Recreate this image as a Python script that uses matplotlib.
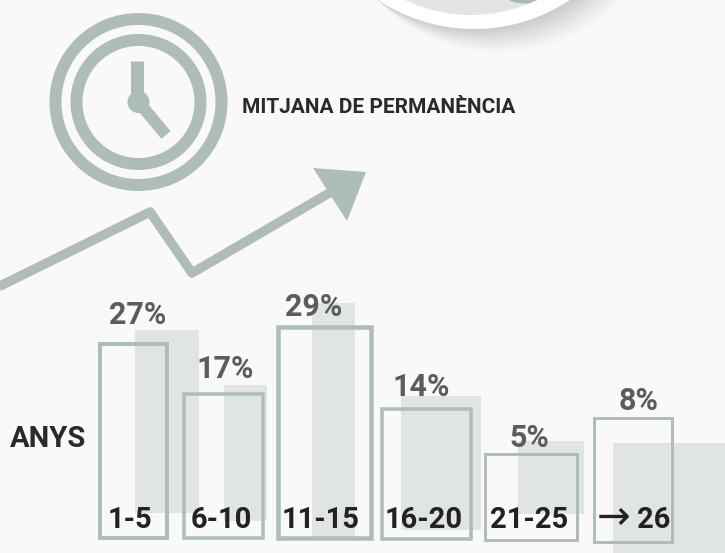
import numpy as np
import matplotlib
matplotlib.use("Agg")
import matplotlib.pyplot as plt
from matplotlib.patches import Circle, Wedge, Polygon, Ellipse

categories = ["1-5", "6-10", "11-15", "16-20", "21-25", "\u2192 26"]
percent_values = [27, 17, 29, 14, 5, 8]
outline_heights = [194, 144, 211, 130, 86, 124]      # drawn height
backdrop_heights = [183, 136, 237, 134, 73, 110]

# layout (pixels)
BG = "#f9f9f9"
SAGE = "#aebdb6"
PALE = "#e0e5e2"
outline_left = [100, 184, 278.5, 382, 485.5, 594.5]
outline_right = [167, 263.5, 371, 471.5, 577.5, 672.5]
outline_base = [538, 538, 538, 538.5, 539.5, 541.5]
outline_lw = [4, 3.5, 4.5, 3.5, 3, 3]
back_left = [135, 224, 312, 401, 518, 613]
back_right = [199, 267, 355, 481, 584, 725]
back_base = [513, 521, 540, 530, 514, 553]
pct_xy = [(138, 315), (225, 369), (314, 307), (421, 387), (529, 438), (639, 401)]
cat_x = [130, 221, 321, 424, 529, 635]
CAT_Y = 520

fig = plt.figure(figsize=(7.25, 5.53), dpi=100, facecolor=BG)
ax = fig.add_axes([0, 0, 1, 1])
ax.set_xlim(0, 725)
ax.set_ylim(553, 0)
ax.axis("off")
PX = 0.72
FONT = ["Roboto", "DejaVu Sans"]

# top badge: soft shadow, white rim, grey disc
sc, sr = (500, -116), 169
wc, wr = (474, -144), 173
gx, gy = np.meshgrid(np.arange(360, 640, 0.5), np.arange(0, 60, 0.5))
d_shadow = np.clip(sr - np.hypot(gx - sc[0], gy - sc[1]), 0, None)
d_white = np.clip(np.hypot(gx - wc[0], gy - wc[1]) - wr, 0, None)
t = d_shadow / (d_shadow + d_white + 1e-6)
bg_rgb = np.array(matplotlib.colors.to_rgb(BG))
dark_rgb = np.array(matplotlib.colors.to_rgb("#cbcdcb"))
img = bg_rgb + (dark_rgb - bg_rgb) * (t[..., None] ** 1.1)
im = ax.imshow(img, extent=(360, 640, 60, 0), zorder=1, aspect="auto", interpolation="bilinear")
ax.set_xlim(0, 725)
ax.set_ylim(553, 0)
clip = Circle(sc, sr, transform=ax.transData)
im.set_clip_path(clip)
ax.add_patch(Circle(wc, wr, fc="white", ec="none", zorder=2))
grey = Circle((471, -138), 153, fc="#e4e4e6", ec="none", zorder=3)
ax.add_patch(grey)
spot = Ellipse((525, -2), 34, 11, fc="#a7bdb2", ec="none", zorder=4)
ax.add_patch(spot)
spot.set_clip_path(grey)

# clock
cx, cy = 138.5, 102
for r_out, width in [(89, 12), (68, 12)]:
    ax.add_patch(Wedge((cx, cy), r_out, 0, 360, width=width, fc=SAGE, ec="none", zorder=3))
ax.plot([137.5, 137.5], [61, cy], color=SAGE, lw=13 * PX, solid_capstyle="butt", zorder=3)
ax.plot([cx, 166], [cy, 135], color=SAGE, lw=12 * PX, solid_capstyle="butt", zorder=3)
ax.add_patch(Circle((cx, cy), 11, fc=SAGE, ec="none", zorder=3))

# trend arrow
ax.plot([-12, 150, 192, 331], [292, 212, 273, 192], color=SAGE, lw=9.5 * PX,
        solid_joinstyle="round", solid_capstyle="butt", zorder=3)
ax.add_patch(Polygon([(313, 168), (366, 172), (347, 221)], closed=True, fc=SAGE, ec="none", zorder=3))

# backdrop blocks
for h, l, r, b in zip(backdrop_heights, back_left, back_right, back_base):
    ax.bar(l, -h, width=r - l, bottom=b, align="edge", color=PALE, edgecolor="none", zorder=4)

# outlined bars
for h, l, r, b, lw in zip(outline_heights, outline_left, outline_right, outline_base, outline_lw):
    ax.bar(l, -h, width=r - l, bottom=b, align="edge", facecolor="none",
           edgecolor=SAGE, linewidth=lw * PX, joinstyle="miter", zorder=5)

# texts
for v, (x, y) in zip(percent_values, pct_xy):
    ax.text(x, y, f"{v}%", color="#5c5c60", fontsize=22, fontweight="bold", family=FONT,
            ha="center", va="center", zorder=6)
for c, x in zip(categories, cat_x):
    if c.startswith("\u2192"):
        sym, rest = c.split(" ")
        ax.text(614, CAT_Y - 2, sym, color="#222222", fontsize=29, family="DejaVu Sans",
                ha="center", va="center", zorder=6)
        ax.text(653.5, CAT_Y, rest, color="#222222", fontsize=21, fontweight="bold", family=FONT,
                ha="center", va="center", zorder=6)
    else:
        ax.text(x, CAT_Y, c, color="#222222", fontsize=21, fontweight="bold", family=FONT,
                ha="center", va="center", zorder=6)
ax.text(48, 439, "ANYS", color="#2a2a2a", fontsize=21, fontweight="bold", family=FONT,
        ha="center", va="center", zorder=6)
ax.text(378.5, 107.5, "MITJANA DE PERMAN\u00c8NCIA", color="#2a2a2a", fontsize=15, fontweight="bold",
        family=FONT, ha="center", va="center", zorder=6)

fig.savefig("out.png", dpi=100, facecolor=BG)
